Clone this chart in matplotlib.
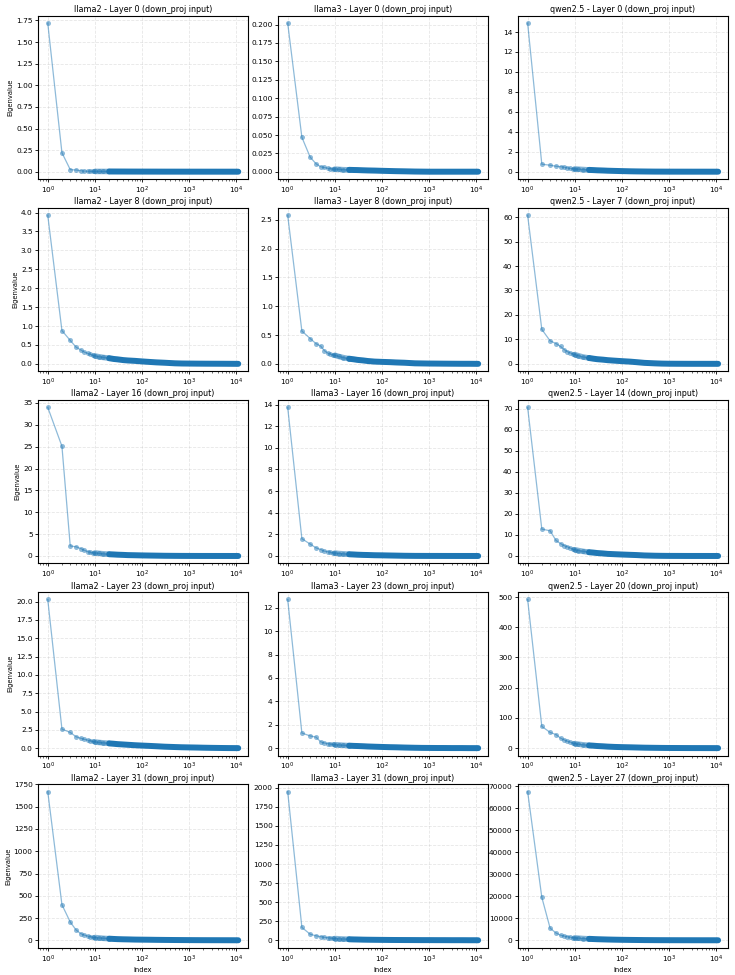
"""Eigenvalue spectra of the down_proj input covariance, per model and layer."""

import matplotlib
matplotlib.use("Agg")
import matplotlib.pyplot as plt
import numpy as np

rank_index = [1, 2, 3, 4, 5, 6, 7, 8, 9, 10, 12, 15, 20, 25, 30, 40, 50, 70,
              100, 150, 200, 300, 500, 700, 1000, 1500, 2000, 3000, 5000,
              7000, 10000, 11008]

models = ["llama2", "llama3", "qwen2.5"]
layers = {
    "llama2": [0, 8, 16, 23, 31],
    "llama3": [0, 8, 16, 23, 31],
    "qwen2.5": [0, 7, 14, 20, 27],
}

# ---- llama2 ---------------------------------------------------------------
llama2_l0 = [1.72, 0.22, 0.025, 0.02, 0.012, 0.008, 0.006, 0.005, 0.0045, 0.004,
             0.0038, 0.0035, 0.003, 0.0028, 0.0026, 0.0024, 0.0022, 0.002,
             0.0018, 0.0016, 0.0015, 0.0013, 0.0012, 0.0011, 0.001, 0.001,
             0.0009, 0.0009, 0.0008, 0.0008, 0.0007, 0.0007]
llama2_l8 = [3.93, 0.88, 0.62, 0.44, 0.37, 0.31, 0.28, 0.25, 0.23, 0.21,
             0.19, 0.17, 0.15, 0.13, 0.12, 0.10, 0.09, 0.08, 0.065, 0.05,
             0.04, 0.03, 0.015, 0.01, 0.008, 0.006, 0.005, 0.004, 0.003,
             0.002, 0.001, 0.001]
llama2_l16 = [34.0, 25.1, 2.3, 2.1, 1.7, 1.3, 1.0, 0.85, 0.75, 0.7,
              0.6, 0.5, 0.4, 0.35, 0.3, 0.25, 0.2, 0.17, 0.13, 0.1,
              0.08, 0.05, 0.03, 0.02, 0.015, 0.01, 0.008, 0.006, 0.004,
              0.003, 0.002, 0.002]
llama2_l23 = [20.3, 2.6, 2.15, 1.55, 1.35, 1.2, 1.1, 1.0, 0.92, 0.85,
              0.78, 0.72, 0.65, 0.6, 0.55, 0.5, 0.46, 0.4, 0.35, 0.3,
              0.26, 0.2, 0.15, 0.12, 0.1, 0.08, 0.06, 0.04, 0.02,
              0.01, 0.005, 0.003]
llama2_l31 = [1670, 400, 205, 115, 75, 58, 48, 40, 35, 31,
              27, 22, 18, 15, 13, 11, 10, 8, 7, 6,
              5, 4, 3, 2.5, 2, 1.5, 1.2, 1.0, 0.7, 0.5, 0.3, 0.2]

# ---- llama3 ---------------------------------------------------------------
llama3_l0 = [0.202, 0.047, 0.020, 0.011, 0.007, 0.006, 0.005, 0.0045, 0.004, 0.0038,
             0.0035, 0.003, 0.0028, 0.0026, 0.0025, 0.0022, 0.002, 0.0018,
             0.0015, 0.0012, 0.001, 0.0008, 0.0005, 0.0004, 0.0003, 0.0003,
             0.0003, 0.0003, 0.0003, 0.0003, 0.0003, 0.0003]
llama3_l8 = [2.58, 0.57, 0.44, 0.35, 0.31, 0.23, 0.19, 0.17, 0.16, 0.15,
             0.13, 0.11, 0.09, 0.08, 0.07, 0.06, 0.05, 0.04, 0.035, 0.03,
             0.025, 0.02, 0.01, 0.008, 0.006, 0.005, 0.004, 0.003, 0.002,
             0.002, 0.001, 0.001]
llama3_l16 = [13.75, 1.6, 1.1, 0.75, 0.6, 0.45, 0.4, 0.35, 0.3, 0.27,
              0.23, 0.2, 0.16, 0.14, 0.12, 0.1, 0.09, 0.07, 0.06, 0.045,
              0.035, 0.02, 0.01, 0.008, 0.006, 0.005, 0.004, 0.003, 0.002,
              0.002, 0.001, 0.001]
llama3_l23 = [12.7, 1.3, 1.05, 0.95, 0.55, 0.45, 0.4, 0.36, 0.33, 0.3,
              0.28, 0.25, 0.22, 0.2, 0.19, 0.17, 0.15, 0.13, 0.11, 0.09,
              0.08, 0.06, 0.04, 0.03, 0.025, 0.02, 0.02, 0.015, 0.015,
              0.01, 0.01, 0.01]
llama3_l31 = [1950, 170, 80, 60, 48, 40, 35, 30, 27, 24,
              20, 17, 14, 12, 11, 9, 8, 7, 6, 5,
              4.5, 4, 3.5, 3, 3, 2.5, 2.5, 2, 2, 1.5, 1.5, 1.0]

# ---- qwen2.5 --------------------------------------------------------------
qwen_l0 = [14.9, 0.75, 0.65, 0.55, 0.5, 0.45, 0.38, 0.33, 0.3, 0.28,
           0.25, 0.22, 0.18, 0.16, 0.14, 0.12, 0.1, 0.08, 0.06, 0.04,
           0.03, 0.02, 0.01, 0.008, 0.005, 0.004, 0.003, 0.002, 0.002,
           0.001, 0.001, 0.001]
qwen_l7 = [60.8, 14.1, 9.4, 8.3, 7.1, 5.8, 5.0, 4.5, 4.1, 3.8,
           3.3, 2.8, 2.4, 2.1, 1.9, 1.7, 1.5, 1.3, 1.1, 0.9,
           0.7, 0.4, 0.2, 0.1, 0.05, 0.03, 0.02, 0.01, 0.008,
           0.005, 0.003, 0.002]
qwen_l14 = [70.8, 12.8, 12.0, 7.4, 5.9, 4.9, 4.4, 3.8, 3.3, 3.0,
            2.6, 2.2, 1.8, 1.6, 1.4, 1.2, 1.0, 0.85, 0.7, 0.55,
            0.45, 0.25, 0.12, 0.07, 0.04, 0.03, 0.02, 0.01, 0.008,
            0.005, 0.003, 0.002]
qwen_l20 = [492, 72, 52, 45, 33, 27, 23, 20, 17, 15,
            13, 11, 9, 8, 7, 6, 5, 4, 3.3, 2.7,
            2.2, 1.5, 1.0, 0.7, 0.5, 0.4, 0.3, 0.2, 0.15,
            0.1, 0.05, 0.03]
qwen_l27 = [67500, 19500, 5500, 3300, 2300, 1900, 1600, 1400, 1250, 1100,
            950, 800, 650, 550, 480, 400, 340, 270, 210, 160,
            130, 90, 60, 45, 35, 25, 20, 14, 8, 5, 3, 2]

spectra = {
    "llama2": [llama2_l0, llama2_l8, llama2_l16, llama2_l23, llama2_l31],
    "llama3": [llama3_l0, llama3_l8, llama3_l16, llama3_l23, llama3_l31],
    "qwen2.5": [qwen_l0, qwen_l7, qwen_l14, qwen_l20, qwen_l27],
}

BLUE = "#1f77b4"


def plot_spectrum(ax, idx, vals, title):
    # thin connecting line through every eigenvalue
    ax.plot(idx, vals, linewidth=0.9, alpha=0.5, color=BLUE, zorder=2)
    # translucent markers for the leading eigenvalues
    head = idx <= 20
    ax.plot(idx[head], vals[head], linestyle="none", marker="o",
            markersize=3.6, markeredgewidth=0, alpha=0.5, color=BLUE,
            zorder=3)
    # the dense tail: thousands of overlapping markers read as a solid band
    tail = idx >= 20
    ax.plot(idx[tail], vals[tail], linewidth=4.3, color=BLUE,
            solid_capstyle="round", solid_joinstyle="round", zorder=4)
    # transition zone where markers overlap only partly
    mid = (idx >= 10) & (idx <= 20)
    ax.plot(idx[mid], vals[mid], linewidth=4.0, color=BLUE, alpha=0.55,
            solid_capstyle="round", zorder=3)
    ax.set_xscale("log")
    ax.set_title(title, fontsize=5.8, pad=2.5)
    ax.grid(True, linestyle="--", alpha=0.3, linewidth=0.6)
    ax.tick_params(labelsize=5.3, length=2.5, width=0.6, pad=1.5)
    ax.tick_params(which="minor", length=1.5, width=0.4)
    for sp in ax.spines.values():
        sp.set_linewidth(0.8)


def main() -> None:
    idx = np.asarray(rank_index, dtype=float)
    fig, axes = plt.subplots(5, 3, figsize=(7.35, 9.75), dpi=100)
    for col, model in enumerate(models):
        for row, layer in enumerate(layers[model]):
            ax = axes[row, col]
            vals = np.asarray(spectra[model][row], dtype=float)
            plot_spectrum(ax, idx, vals,
                          f"{model} - Layer {layer} (down_proj input)")
            if col == 0:
                ax.set_ylabel("Eigenvalue", fontsize=4.9, labelpad=2)
            if row == 4:
                ax.set_xlabel("Index", fontsize=4.9, labelpad=2)
    fig.subplots_adjust(left=0.052, right=0.99, top=0.984, bottom=0.028,
                        wspace=0.145, hspace=0.175)
    fig.savefig("out.png", dpi=100)
    plt.close(fig)


if __name__ == "__main__":
    main()
